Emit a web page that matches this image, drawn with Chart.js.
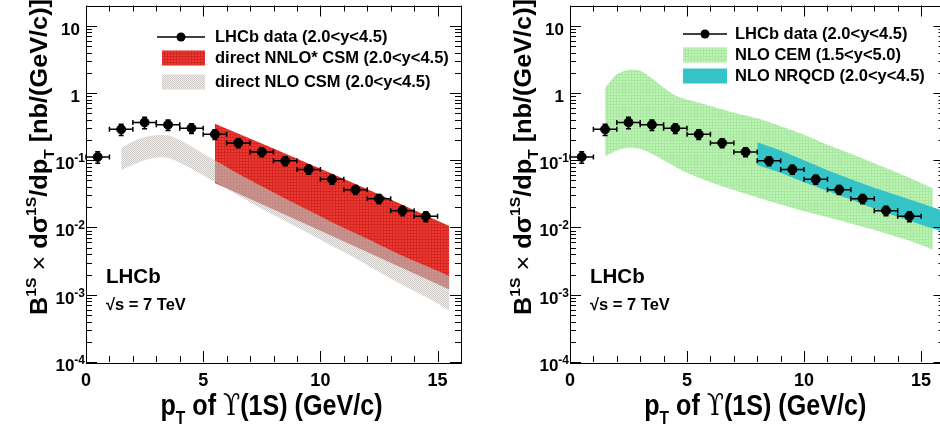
<!DOCTYPE html>
<html>
<head>
<meta charset="utf-8">
<script src="https://cdn.jsdelivr.net/npm/chart.js@4.4.0/dist/chart.umd.min.js"></script>
<style>
  html, body { margin: 0; padding: 0; background: #fff; }
  #wrap { position: relative; width: 940px; height: 436px; overflow: hidden; }
  .panel { position: absolute; top: 0; height: 436px; }
  #left { left: 0; width: 470px; }
  #right { left: 470px; width: 480px; }
</style>
</head>
<body>
<div id="wrap">
  <div class="panel" id="left"><canvas id="csmChart"></canvas></div>
  <div class="panel" id="right"><canvas id="cemChart"></canvas></div>
</div>
<script>
// LHCb data, Upsilon(1S), 2.0<y<4.5
const ptBins = [0.5, 1.5, 2.5, 3.5, 4.5, 5.5, 6.5, 7.5, 8.5, 9.5, 10.5, 11.5, 12.5, 13.5, 14.5];
const ptHalfWidth = [0.5, 0.5, 0.5, 0.5, 0.5, 0.5, 0.5, 0.5, 0.5, 0.5, 0.5, 0.5, 0.5, 0.5, 0.5];
const lhcbSigma = [0.112, 0.288, 0.365, 0.337, 0.300, 0.243, 0.181, 0.133, 0.098, 0.073, 0.052, 0.0365, 0.0268, 0.0178, 0.0147];
const lhcbErr = [0.022, 0.055, 0.07, 0.06, 0.05, 0.04, 0.028, 0.02, 0.015, 0.011, 0.008, 0.0055, 0.0042, 0.0029, 0.0025];

// direct NLO CSM band (grey)
const nloCsmPt = [1.5, 2, 2.5, 3, 3.5, 4, 4.5, 5, 5.5, 6.5, 7.5, 8.5, 9.5, 10.5, 11.5, 12.5, 13.5, 14.5, 15.5];
const nloCsmHigh = [0.15, 0.19, 0.22, 0.235, 0.235, 0.2, 0.16, 0.125, 0.1, 0.063, 0.041, 0.027, 0.018, 0.012, 0.0082, 0.0056, 0.0038, 0.0027, 0.0019];
const nloCsmLow = [0.071, 0.085, 0.1, 0.11, 0.108, 0.092, 0.075, 0.06, 0.048, 0.03, 0.019, 0.0125, 0.0082, 0.0053, 0.0035, 0.0022, 0.0014, 0.00093, 0.00058];

// direct NNLO* CSM band (red)
const nnloCsmPt = [5.5, 8, 10.5, 13, 15.5];
const nnloCsmHigh = [0.35, 0.15, 0.063, 0.026, 0.0105];
const nnloCsmLow = [0.046, 0.0185, 0.0075, 0.003, 0.0012];

// NLO CEM band (green), 1.5<y<5.0
const cemPt = [1.5, 2, 2.5, 3, 3.5, 4, 4.5, 5, 5.5, 6, 7, 8, 9, 10, 11, 12, 13, 14, 15, 15.5];
const cemHigh = [1.2, 1.9, 2.2, 2.15, 1.65, 1.2, 0.92, 0.8, 0.72, 0.64, 0.51, 0.42, 0.32, 0.24, 0.17, 0.125, 0.09, 0.065, 0.046, 0.038];
const cemLow = [0.115, 0.14, 0.155, 0.148, 0.125, 0.1, 0.08, 0.065, 0.055, 0.047, 0.036, 0.028, 0.022, 0.0175, 0.0143, 0.0115, 0.0092, 0.0072, 0.0055, 0.0047];

// NLO NRQCD band (cyan)
const nrqcdPt = [8, 9, 10, 11, 12, 13, 14, 15, 16];
const nrqcdHigh = [0.185, 0.14, 0.1, 0.071, 0.052, 0.039, 0.03, 0.023, 0.0175];
const nrqcdLow = [0.085, 0.065, 0.047, 0.035, 0.026, 0.019, 0.0145, 0.011, 0.0085];

// axis ticks
const xTickValues = [0, 5, 10, 15];
const yDecades = [1e-4, 1e-3, 1e-2, 1e-1, 1, 10];
const yDecadeBase = ['10', '10', '10', '10', '1', '10'];
const yDecadeExp = ['-4', '-3', '-2', '-1', '', ''];

const FONT = '"Liberation Sans", Arial, sans-serif';
Chart.defaults.font.family = FONT;
Chart.defaults.color = '#000';

// fill textures, a bit like the ROOT hatch styles
function makePattern(size, paint) {
    const c = document.createElement('canvas');
    c.width = c.height = size;
    const g = c.getContext('2d');
    paint(g);
    return g.createPattern(c, 'repeat');
}
const redFill = makePattern(3, g => {
    g.fillStyle = 'rgb(236,58,48)'; g.fillRect(0, 0, 3, 3);
    g.fillStyle = 'rgb(212,38,34)'; g.fillRect(0, 2, 3, 1); g.fillRect(2, 0, 1, 3);
});
// grey is see-through so the red shows pinkish under it
const greyFill = makePattern(2, g => {
    g.fillStyle = 'rgba(185,180,175,0.7)';
    g.fillRect(0, 0, 1, 1); g.fillRect(1, 1, 1, 1);
    g.fillStyle = 'rgba(225,222,218,0.5)';
    g.fillRect(1, 0, 1, 1); g.fillRect(0, 1, 1, 1);
});
const greenFill = makePattern(3, g => {
    g.fillStyle = 'rgb(188,243,180)'; g.fillRect(0, 0, 3, 3);
    g.fillStyle = 'rgb(168,232,160)'; g.fillRect(0, 2, 3, 1); g.fillRect(2, 0, 1, 3);
});
const cyanFill = 'rgb(52,196,200)';

function bandDatasets(pts, low, high, fill, order, tension) {
    const common = { borderColor: 'rgba(0,0,0,0)', borderWidth: 0, pointRadius: 0, tension: tension, order: order };
    return [
        Object.assign({ data: pts.map((x, i) => ({ x: x, y: low[i] })), fill: false }, common),
        Object.assign({ data: pts.map((x, i) => ({ x: x, y: high[i] })), fill: '-1', backgroundColor: fill }, common)
    ];
}

function pointsDataset() {
    return {
        data: ptBins.map((x, i) => ({ x: x, y: lhcbSigma[i] })),
        showLine: false,
        pointRadius: 4.5,
        pointBorderWidth: 1,
        pointBackgroundColor: '#000',
        pointBorderColor: '#000',
        order: 0
    };
}

// text with super/subscripts, squeezed to a target length
function partFont(p, size) {
    return (p.weight || 'bold') + ' ' + (size * (p.s || 1)) + 'px ' + (p.family || FONT);
}
function drawRich(ctx, parts, size, targetW) {
    let w = 0;
    parts.forEach(p => {
        ctx.font = partFont(p, size);
        p.w = ctx.measureText(p.t).width;
        w += p.w;
    });
    const k = targetW ? targetW / w : 1;
    ctx.save();
    ctx.scale(k, 1);
    let cx = -w / 2;
    ctx.textBaseline = 'alphabetic';
    ctx.textAlign = 'left';
    parts.forEach(p => {
        ctx.font = partFont(p, size);
        ctx.fillText(p.t, cx, (p.dy || 0) * size);
        cx += p.w;
    });
    ctx.restore();
}

const yTitle = [
    { t: 'B' }, { t: '1S', s: 0.62, dy: -0.45 }, { t: ' \u00d7 ', weight: 'normal' },
    { t: 'd\u03c3' }, { t: '1S', s: 0.62, dy: -0.45 }, { t: '/dp' }, { t: 'T', s: 0.62, dy: 0.3 },
    { t: ' [nb/(GeV/c)]' }
];
const xTitle = [
    { t: 'p' }, { t: 'T', s: 0.62, dy: 0.3 }, { t: ' of ' },
    { t: '\u03d2', weight: 'normal', family: '"DejaVu Serif", serif' },
    { t: '(1S) (GeV/c)' }
];

const hepFrame = {
    id: 'hepFrame',
    afterDatasetsDraw(chart) {
        const { ctx, scales: { x, y } } = chart;
        ctx.save();
        ctx.strokeStyle = '#000';
        ctx.lineWidth = 1.5;
        ptBins.forEach((pt, i) => {
            const px = x.getPixelForValue(pt);
            const py = y.getPixelForValue(lhcbSigma[i]);
            const xl = x.getPixelForValue(pt - ptHalfWidth[i]);
            const xr = x.getPixelForValue(pt + ptHalfWidth[i]);
            const yt = y.getPixelForValue(lhcbSigma[i] + lhcbErr[i]);
            const yb = y.getPixelForValue(lhcbSigma[i] - lhcbErr[i]);
            ctx.beginPath();
            ctx.moveTo(xl, py); ctx.lineTo(xr, py);
            ctx.moveTo(xl, py - 2.5); ctx.lineTo(xl, py + 2.5);
            ctx.moveTo(xr, py - 2.5); ctx.lineTo(xr, py + 2.5);
            ctx.moveTo(px, yt); ctx.lineTo(px, yb);
            ctx.moveTo(px - 2.5, yt); ctx.lineTo(px + 2.5, yt);
            ctx.moveTo(px - 2.5, yb); ctx.lineTo(px + 2.5, yb);
            ctx.stroke();
        });
        ctx.restore();
    },
    afterDraw(chart, args, o) {
        const { ctx, chartArea: a, scales: { x, y } } = chart;
        ctx.save();

        // frame and inward ticks
        ctx.strokeStyle = '#000';
        ctx.lineWidth = 1;
        ctx.strokeRect(Math.round(a.left) + 0.5, Math.round(a.top) + 0.5, Math.round(a.right - a.left), Math.round(a.bottom - a.top));
        ctx.beginPath();
        for (let v = 0; v <= 16; v++) {
            const px = Math.round(x.getPixelForValue(v)) + 0.5;
            const len = v % 5 === 0 ? 11 : 6;
            ctx.moveTo(px, a.bottom); ctx.lineTo(px, a.bottom - len);
            ctx.moveTo(px, a.top); ctx.lineTo(px, a.top + len);
        }
        yDecades.forEach(d => {
            for (let m = 1; m <= 9; m++) {
                const v = m * d;
                if (v > y.max) break;
                const py = Math.round(y.getPixelForValue(v)) + 0.5;
                const len = m === 1 ? 11 : 6;
                ctx.moveTo(a.left, py); ctx.lineTo(a.left + len, py);
                ctx.moveTo(a.right, py); ctx.lineTo(a.right - len, py);
            }
        });
        ctx.stroke();

        // y tick labels with exponents
        ctx.fillStyle = '#000';
        ctx.textBaseline = 'alphabetic';
        ctx.textAlign = 'right';
        yDecades.forEach((d, i) => {
            const py = y.getPixelForValue(d);
            if (yDecadeExp[i]) {
                ctx.font = 'bold 12px ' + FONT;
                const ew = ctx.measureText(yDecadeExp[i]).width;
                ctx.fillText(yDecadeExp[i], a.left - 1, py + 2);
                ctx.font = 'bold 17px ' + FONT;
                ctx.fillText(yDecadeBase[i], a.left - 1 - ew, py + 9);
            } else {
                ctx.font = 'bold 17px ' + FONT;
                ctx.fillText(yDecadeBase[i], a.left - 6, py + 9);
            }
        });

        // axis titles
        ctx.save();
        ctx.translate(o.yTitleX, 157);
        ctx.rotate(-Math.PI / 2);
        drawRich(ctx, yTitle, 24, 316);
        ctx.restore();
        ctx.save();
        ctx.translate((a.left + a.right) / 2 - 2, 415);
        drawRich(ctx, xTitle, 29, 222);
        ctx.restore();

        // experiment label
        ctx.textAlign = 'left';
        ctx.font = 'bold 20.5px ' + FONT;
        ctx.fillText('LHCb', a.left + 20, 283);
        ctx.font = 'bold 16.5px ' + FONT;
        ctx.fillText('\u221as = 7 TeV', a.left + 20, 310);

        // legend
        const L = o.legend;
        ctx.textBaseline = 'middle';
        ctx.font = 'bold 16.5px ' + FONT;
        L.entries.forEach(e => {
            if (e.kind === 'marker') {
                ctx.lineWidth = 1.5;
                ctx.beginPath();
                ctx.moveTo(L.lineFrom, e.y); ctx.lineTo(L.boxTo, e.y);
                ctx.stroke();
                ctx.beginPath();
                ctx.arc((L.lineFrom + L.boxTo) / 2, e.y, 4.5, 0, Math.PI * 2);
                ctx.fill();
            } else {
                ctx.fillStyle = e.fill;
                ctx.fillRect(L.boxFrom, e.y - 7.5, L.boxTo - L.boxFrom, 15);
                ctx.fillStyle = '#000';
            }
            ctx.fillText(e.text, L.textX, e.y);
        });
        ctx.restore();
    }
};

function makeChart(canvasId, datasets, frame) {
    return new Chart(document.getElementById(canvasId), {
        type: 'line',
        data: { datasets: datasets },
        options: {
            responsive: true,
            maintainAspectRatio: false,
            animation: false,
            devicePixelRatio: 1,
            layout: { padding: { top: 3, right: frame.padRight, left: 0, bottom: 0 } },
            plugins: {
                legend: { display: false },
                tooltip: { enabled: false },
                hepFrame: frame
            },
            scales: {
                x: {
                    type: 'linear', min: 0, max: 16,
                    afterBuildTicks: s => { s.ticks = xTickValues.map(v => ({ value: v })); },
                    afterFit: s => { s.height = 74; },
                    ticks: { font: { size: 18, weight: 'bold' }, color: '#000', padding: 8, maxRotation: 0, autoSkip: false },
                    grid: { display: false, drawTicks: false },
                    border: { display: false }
                },
                y: {
                    type: 'logarithmic', min: 1e-4, max: 20,
                    afterFit: s => { s.width = frame.axisWidth; },
                    ticks: { display: false },
                    grid: { display: false, drawTicks: false },
                    border: { display: false }
                }
            }
        },
        plugins: [hepFrame]
    });
}

makeChart('csmChart',
    [].concat(
        bandDatasets(nloCsmPt, nloCsmLow, nloCsmHigh, greyFill, 1, 0.25),
        bandDatasets(nnloCsmPt, nnloCsmLow, nnloCsmHigh, redFill, 2, 0),
        [pointsDataset()]
    ),
    {
        axisWidth: 86, padRight: 9, yTitleX: 47,
        legend: {
            lineFrom: 157, boxFrom: 162, boxTo: 205, textX: 215,
            entries: [
                { kind: 'marker', text: 'LHCb data (2.0<y<4.5)', y: 37 },
                { kind: 'box', fill: redFill, text: 'direct NNLO* CSM (2.0<y<4.5)', y: 58 },
                { kind: 'box', fill: greyFill, text: 'direct NLO CSM (2.0<y<4.5)', y: 82 }
            ]
        }
    });

makeChart('cemChart',
    [].concat(
        bandDatasets(cemPt, cemLow, cemHigh, greenFill, 2, 0.25),
        bandDatasets(nrqcdPt, nrqcdLow, nrqcdHigh, cyanFill, 1, 0),
        [pointsDataset()]
    ),
    {
        axisWidth: 100, padRight: 5, yTitleX: 61,
        legend: {
            lineFrom: 213, boxFrom: 213, boxTo: 257, textX: 265,
            entries: [
                { kind: 'marker', text: 'LHCb data (2.0<y<4.5)', y: 34 },
                { kind: 'box', fill: greenFill, text: 'NLO CEM (1.5<y<5.0)', y: 55 },
                { kind: 'box', fill: cyanFill, text: 'NLO NRQCD (2.0<y<4.5)', y: 76 }
            ]
        }
    });
</script>
</body>
</html>
